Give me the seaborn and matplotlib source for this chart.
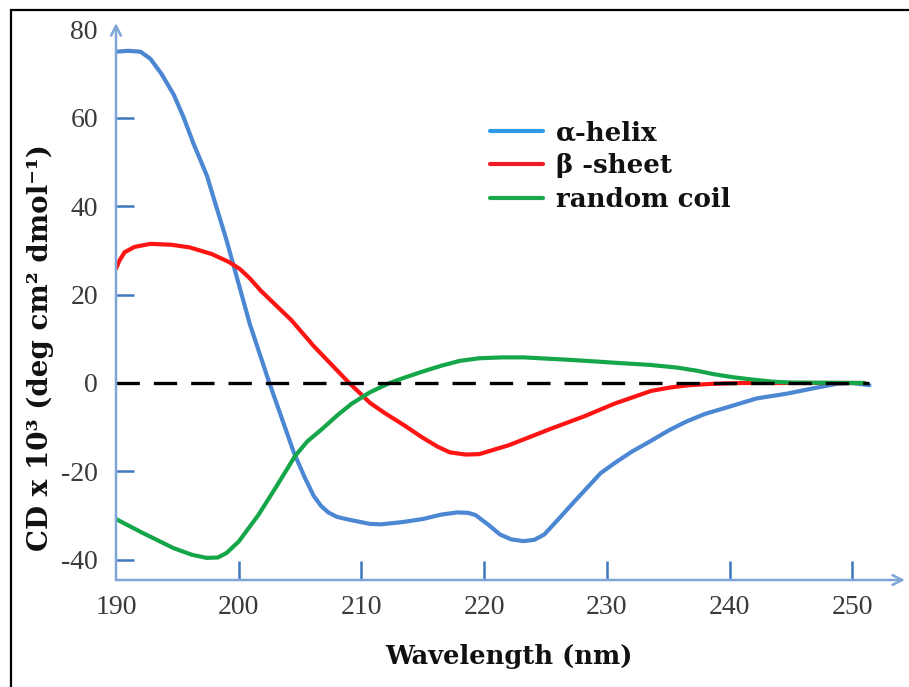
import numpy as np
import pandas as pd
import matplotlib
matplotlib.use("Agg")
import matplotlib.pyplot as plt
import seaborn as sns
from matplotlib.patches import Rectangle
from matplotlib.lines import Line2D

# ---- data ----
helix_wl = [190.0, 191.0, 192.0, 192.8, 193.7, 194.7, 195.5, 196.3, 197.4, 199.0,
            200.9, 202.5, 204.5, 205.4, 206.1, 206.7, 207.3, 208.0, 208.9, 210.7,
            211.6, 213.3, 215.0, 216.5, 217.8, 218.7, 219.3, 220.3, 221.3, 222.2,
            223.2, 224.1, 224.9, 226.0, 227.3, 229.5, 230.6, 232.0, 233.6, 235.0,
            236.5, 238.0, 239.7, 242.2, 244.7, 247.2, 248.7, 250.0, 251.4]
helix_cd = [75.0, 75.2, 75.0, 73.4, 70.0, 65.3, 60.2, 54.3, 47.0, 32.4,
            13.4, 0.0, -15.8, -21.5, -25.5, -27.8, -29.3, -30.3, -30.9, -31.9,
            -32.0, -31.5, -30.8, -29.8, -29.3, -29.4, -29.9, -32.0, -34.3, -35.4,
            -35.8, -35.5, -34.3, -31.0, -27.0, -20.4, -18.2, -15.6, -13.1, -10.8,
            -8.7, -7.0, -5.6, -3.5, -2.4, -1.0, -0.2, 0.0, -0.5]

sheet_wl = [190.0, 190.3, 190.7, 191.5, 192.8, 194.5, 196.0, 197.8, 199.2, 200.1,
            200.9, 201.8, 204.3, 206.1, 208.9, 210.7, 211.9, 213.5, 215.0, 216.2,
            217.2, 218.5, 219.6, 222.0, 225.4, 228.2, 230.6, 233.6, 235.2, 236.7,
            238.5, 241.0, 251.0]
sheet_cd = [25.9, 27.8, 29.6, 30.8, 31.5, 31.3, 30.7, 29.2, 27.4, 25.8,
            23.7, 20.9, 14.2, 8.4, 0.3, -4.5, -6.8, -9.6, -12.4, -14.4,
            -15.7, -16.2, -16.1, -14.1, -10.4, -7.5, -4.7, -1.8, -1.0, -0.5,
            -0.2, 0.0, 0.0]

coil_wl = [190.0, 192.0, 194.7, 196.2, 197.4, 198.3, 199.0, 200.0, 201.6, 203.1,
           204.6, 205.6, 206.8, 208.0, 209.2, 210.7, 212.3, 213.6, 215.0, 216.5,
           218.0, 219.6, 221.5, 223.2, 226.6, 229.5, 231.1, 233.5, 235.7, 237.3,
           238.7, 240.3, 241.8, 243.5, 245.0, 251.0]
coil_cd = [-30.8, -33.7, -37.4, -38.9, -39.6, -39.5, -38.5, -35.9, -29.9, -23.3,
           -16.5, -13.2, -10.4, -7.4, -4.7, -2.1, 0.0, 1.3, 2.6, 3.9,
           5.0, 5.6, 5.8, 5.8, 5.3, 4.8, 4.5, 4.1, 3.5, 2.8,
           2.0, 1.3, 0.8, 0.3, 0.1, 0.0]

series_names = ["α-helix", "β -sheet", "random coil"]
series_colors = ["#4b87d2", "#ff1414", "#16a64a"]
legend_colors = ["#2d9be6", "#ee1c24", "#1aa64b"]

x_ticks = [190, 200, 210, 220, 230, 240, 250]
y_ticks = [-40, -20, 0, 20, 40, 60, 80]
baseline_wl = [190.0, 251.4]
baseline_cd = [0.0, 0.0]

df = pd.concat([
    pd.DataFrame({"wl": helix_wl, "cd": helix_cd, "s": series_names[0]}),
    pd.DataFrame({"wl": sheet_wl, "cd": sheet_cd, "s": series_names[1]}),
    pd.DataFrame({"wl": coil_wl, "cd": coil_cd, "s": series_names[2]}),
])

# ---- style ----
sns.set_style("white")
plt.rcParams["font.family"] = ["Liberation Serif", "DejaVu Serif"]
plt.rcParams["lines.solid_joinstyle"] = "round"
plt.rcParams["lines.solid_capstyle"] = "round"

W, H = 909, 687
fig = plt.figure(figsize=(W / 100, H / 100), dpi=100)
ax_left, ax_right, ax_top, ax_bottom = 116, 905, 23, 580
ax = fig.add_axes([ax_left / W, (H - ax_bottom) / H,
                   (ax_right - ax_left) / W, (ax_bottom - ax_top) / H])

# baseline (dashed) first
ax.plot(baseline_wl, baseline_cd, color="black", lw=2.4, dashes=(7.0, 4.2), zorder=3)

sns.lineplot(data=df, x="wl", y="cd", hue="s", palette=series_colors,
             hue_order=series_names, sort=False, estimator=None, lw=3.0,
             ax=ax, legend=False, zorder=2)

ax.set_xlim(190, 254.3)
ax.set_ylim(-44.6, 81.5)

for sp in ax.spines.values():
    sp.set_visible(False)

axis_col = "#7ea6d6"
tick_col = "#3f78c0"
ax.annotate("", xy=(1, 0), xytext=(0, 0), xycoords="axes fraction",
            arrowprops=dict(arrowstyle="->,head_length=0.7,head_width=0.35",
                            color=axis_col, lw=1.8, shrinkA=0, shrinkB=0))
ax.annotate("", xy=(0, 1), xytext=(0, 0), xycoords="axes fraction",
            arrowprops=dict(arrowstyle="->,head_length=0.7,head_width=0.35",
                            color=axis_col, lw=1.8, shrinkA=0, shrinkB=0))

ax.set_xticks(x_ticks)
ax.set_yticks(y_ticks)
ax.set_xticklabels([str(v) for v in x_ticks])
ax.set_yticklabels([str(v) for v in y_ticks])
ax.tick_params(axis="x", direction="in", length=14, width=1.8, color=tick_col,
               labelsize=20, labelcolor="#3a3a3a", pad=11, bottom=True)
ax.tick_params(axis="y", direction="in", length=13, width=1.8, color=tick_col,
               labelsize=20, labelcolor="#3a3a3a", pad=13, left=True)
# hide tick marks hidden in the reference
ax.xaxis.get_major_ticks()[0].tick1line.set_visible(False)
ax.yaxis.get_major_ticks()[-1].tick1line.set_visible(False)
ax.yaxis.get_major_ticks()[2].tick1line.set_visible(False)

ax.set_xlabel("Wavelength (nm)", family=["DejaVu Serif"], weight="bold",
              size=18.5, color="#111111")
ax.xaxis.set_label_coords((509 - ax_left) / (ax_right - ax_left),
                          (ax_bottom - 644) / (ax_bottom - ax_top))
ax.set_ylabel("CD x 10³ (deg cm² dmol⁻¹)", family=["DejaVu Serif"], weight="bold",
              size=20, color="#111111")
ax.yaxis.set_label_coords((54 - ax_left) / (ax_right - ax_left),
                          (ax_bottom - 348) / (ax_bottom - ax_top))

# legend
handles = [Line2D([], [], color=c, lw=3) for c in legend_colors]
leg = fig.legend(handles, series_names, loc="center left",
                 bbox_to_anchor=(490 / W, 1 - 166 / H), frameon=False,
                 borderpad=0, borderaxespad=0, handlelength=2.05, handletextpad=0.5,
                 labelspacing=0.33,
                 prop=dict(family="DejaVu Serif", weight="bold", size=18.7))
for t in leg.get_texts():
    t.set_color("#111111")

# figure border
fig.patches.append(Rectangle((11 / W, -0.05), 1.2, 1 - 10 / H + 0.05,
                             transform=fig.transFigure, fill=False,
                             edgecolor="black", lw=1.6))

fig.savefig("out.png", dpi=100)
